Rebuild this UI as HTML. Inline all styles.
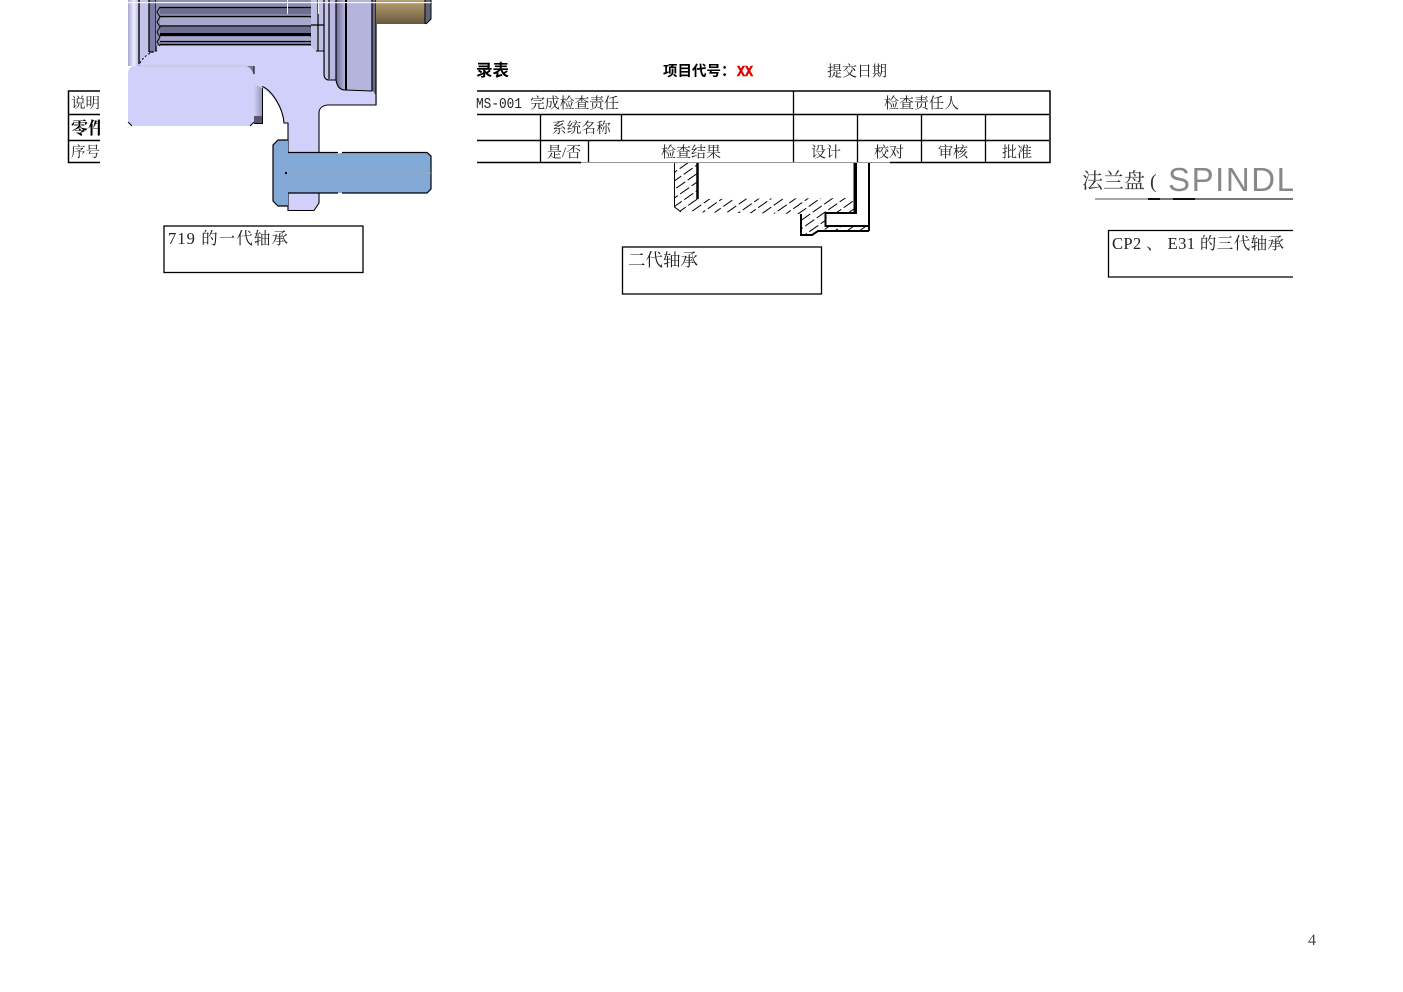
<!DOCTYPE html>
<html><head><meta charset="utf-8"><style>
html,body{margin:0;padding:0;background:#fff;width:1403px;height:992px;overflow:hidden}
svg{display:block}
text{font-family:"Liberation Serif","Noto Serif CJK SC",serif;fill:#222}
</style></head><body>
<svg width="1403" height="992" viewBox="0 0 1403 992" xmlns="http://www.w3.org/2000/svg">
<defs>
<linearGradient id="brass" x1="0" y1="0" x2="0" y2="1"><stop offset="0" stop-color="#b8a070"/><stop offset="0.5" stop-color="#947f58"/><stop offset="1" stop-color="#66583c"/></linearGradient>
<linearGradient id="leftg" x1="0" y1="0" x2="1" y2="0"><stop offset="0" stop-color="#a8a8d4"/><stop offset="0.5" stop-color="#eeeeff"/><stop offset="1" stop-color="#a8a8d8"/></linearGradient>
<linearGradient id="side" x1="0" y1="0" x2="1" y2="0"><stop offset="0" stop-color="#6c6c94"/><stop offset="1" stop-color="#b4b4dc"/></linearGradient>
<linearGradient id="small" x1="0" y1="0" x2="1" y2="0"><stop offset="0" stop-color="#d0d0f0"/><stop offset="1" stop-color="#9090b8"/></linearGradient>
<pattern id="hatch" width="14" height="14" patternUnits="userSpaceOnUse" patternTransform="rotate(-35)">
<line x1="0" y1="3" x2="14" y2="3" stroke="#000" stroke-width="1" stroke-dasharray="9 3"/>
<line x1="0" y1="10" x2="14" y2="10" stroke="#000" stroke-width="1" stroke-dasharray="9 3"/>
</pattern>
</defs>

<!-- left table fragment -->
<g fill="none" stroke="#000" stroke-width="1.5">
<path d="M100 91H68.500V162.500H100M68 114.500H100M68 140.500H100"/>
</g>
<text x="71" y="108" font-size="14.500">说明</text>
<text x="71" y="134" font-size="17" font-weight="700" style="fill:#000">零件</text>
<text x="71" y="157" font-size="14.500">序号</text>
<rect x="100" y="85" width="28" height="85" fill="#fff"/>

<!-- machined part -->
<rect x="128" y="0" width="12" height="66" fill="url(#leftg)"/>
<rect x="140" y="0" width="20" height="66" fill="#c4c4ea"/>
<rect x="149" y="0" width="7" height="52" fill="#7c7ca6"/>
<path d="M139 0V64M149 0V52M156 0V52M149 52H156" stroke="#000" stroke-width="1.300" fill="none"/>
<!-- ribs -->
<rect x="156" y="0" width="156" height="46" fill="#8d8db4"/>
<g fill="#6e6e90"><rect x="160" y="8" width="152" height="6"/><rect x="160" y="27" width="152" height="6"/></g>
<g fill="#a8a8cc"><rect x="160" y="18" width="152" height="7"/><rect x="160" y="37" width="152" height="4"/></g>
<g stroke="#000" fill="none">
<path d="M160 7.500H311M160 16.500H311M160 26H311M160 41.500H311M160 44.500H311" stroke-width="1.200"/>
<path d="M160 34.500H311" stroke-width="3"/>
<path d="M160 7L157 12L160 17L157 22L160 27L157 32L160 37L157 42L160 46M311 7L315 12L311 17L315 22L311 27L315 32L311 37L315 42L311 46" stroke-width="1"/>
</g>
<!-- right strips -->
<rect x="311" y="0" width="13" height="51" fill="#c0c0e4"/>
<rect x="324" y="0" width="13" height="80" fill="#c4c4ec"/>
<rect x="329" y="0" width="8" height="80" fill="#b8b8e0"/>
<path d="M336 0H345V92H336Z" fill="url(#side)"/>
<rect x="345" y="0" width="28" height="92" fill="#b4b4dc"/>
<rect x="372" y="0" width="4" height="95" fill="#6c6c88"/>
<path d="M324 0V79M318 0V51M329 0V79M336 0V80M372 0V91M376 0V105M311 25H324" stroke="#000" stroke-width="1.200" fill="none"/>
<path d="M346 0V90" stroke="#000" stroke-width="2" fill="none"/>
<!-- brass -->
<rect x="376" y="0" width="49" height="24" fill="url(#brass)"/>
<path d="M425 0H431V19L426 24H425Z" fill="#5e6678"/>
<path d="M425 0V24M431 0V19L426 24" stroke="#000" fill="none"/>
<rect x="128" y="2" width="303" height="1.200" fill="#f4f4f4"/>
<rect x="287" y="0" width="1" height="14" fill="#f4f4f4"/>
<rect x="318" y="0" width="1" height="14" fill="#f4f4f4"/>

<!-- small piece next to pocket -->
<rect x="254" y="85" width="9" height="39" fill="url(#small)"/>
<rect x="254" y="116" width="9" height="7" fill="#55556e"/>
<path d="M262.500 86V123.500H254" fill="none" stroke="#000"/>
<!-- body -->
<path d="M140 66C140 58 150 52 157 51L160 46H311L316 51H324V74C324 78 326 80 329 80H336C337 86 340 90 345 90L372 91C374 92 376 94 376 100V105H327C322 106 319 108 319 113V203L314 210H288V123H284C283 108 270 88 254 85V66Z" fill="#d0d0fa"/>
<path d="M316 51H324V74C324 78 326 80 329 80H336C337 86 340 90 345 90L372 91M376 96V105H327C322 106 319 108 319 113V203L314 210.500H288V123H284C283 108 272 90 262 86.500" fill="none" stroke="#000" stroke-width="1.100"/>
<path d="M140 63C143 57 150 52 157 51" fill="none" stroke="#000" stroke-width="1" stroke-dasharray="2 2"/>
<rect x="128" y="66" width="126" height="60" rx="7" fill="#d0d0fa"/>
<path d="M246 66H254V75C252 70 250 67 246 66Z" fill="#7a7a98"/>
<path d="M254 66V74M128 122L132 126M250 126L254 122" fill="none" stroke="#000"/>
<path d="M140 66H246" stroke="#c8c8c8"/>
<!-- bolt -->
<path d="M288 140H278L273 145V201L278 206H288V193H315L320 192.500L345 193H427L431 189V156L427 152.500H345L338 153.500L333 152.500H288Z" fill="#82a9d6"/>
<path d="M288 140H278L273 145V201L278 206H288M288 193H338M342 193H427L431 189V156L427 152.500H342M338 152.500H288" fill="none" stroke="#000" stroke-width="1.200"/>
<path d="M288 173H431" stroke="#9aa6b8" stroke-width="1"/>
<rect x="285" y="172" width="2" height="2" fill="#000"/>

<!-- center title -->
<text x="476" y="76" font-size="16.500" font-weight="700" style="fill:#000;font-family:'Noto Sans CJK SC','Liberation Sans',sans-serif">录表</text>
<text x="663" y="76" font-size="14.500" font-weight="700" style="fill:#000;font-family:'Noto Sans CJK SC','Liberation Sans',sans-serif">项目代号：</text>
<text x="737" y="76" font-size="15" font-weight="700" textLength="16" lengthAdjust="spacingAndGlyphs" style="fill:#e00000;stroke:#e00000;stroke-width:.5;font-family:'Liberation Mono',monospace">XX</text>
<text x="827" y="76" font-size="15">提交日期</text>

<!-- center table -->
<g stroke="#000" fill="none">
<path d="M477 91H1050V162.500H890M477 114.500H1049M477 140.500H1049M477 162.500H581" stroke-width="1.500"/>
<path d="M793.500 91V162M857.500 114V162M921.500 114V162M985.500 114V162M540.500 114V162M621.500 114V140M588.500 140V162" stroke-width="1.300"/>
</g>
<path d="M581 162.500H890" stroke="#999" stroke-width="1"/>
<text x="476" y="108" font-size="15" textLength="46" lengthAdjust="spacingAndGlyphs" style="font-family:'Liberation Mono',monospace">MS-001</text>
<text x="530" y="108" font-size="15" textLength="89">完成检查责任</text>
<text x="884" y="108" font-size="15">检查责任人</text>
<text x="552" y="133" font-size="14.500" letter-spacing="0.200">系统名称</text>
<text x="547" y="157" font-size="15">是/否</text>
<text x="661" y="157" font-size="15">检查结果</text>
<text x="811" y="157" font-size="15">设计</text>
<text x="874" y="157" font-size="15">校对</text>
<text x="938" y="157" font-size="15">审核</text>
<text x="1002" y="157" font-size="15">批准</text>

<!-- hatched section -->
<path d="M674 163V207L681 212L800 214V235H812L818 231H869V226H825V213H855V198L698 199V163Z" fill="url(#hatch)"/>
<path d="M674.500 163V207L681 212" fill="none" stroke="#000"/>
<path d="M697.500 163V199" stroke="#000" stroke-width="2.500" fill="none"/>
<path d="M856 163V213H825.500V226H869" stroke="#000" stroke-width="2" fill="none"/>
<path d="M855 163V213" stroke="#000" stroke-width="3" fill="none"/>
<path d="M869 163V231" stroke="#000" stroke-width="2" fill="none"/>
<path d="M801 214V235H812L818 231H869" stroke="#000" stroke-width="2" fill="none"/>

<!-- spindle text -->
<text x="1082" y="188" font-size="21" style="fill:#333">法兰盘</text>
<text x="1150" y="188" font-size="20" style="fill:#333">(</text>
<text x="1168" y="191" font-size="33" textLength="127" lengthAdjust="spacing" style="font-family:'Liberation Sans',sans-serif;font-weight:400;fill:#888">SPINDL</text>
<path d="M1095 199H1148" stroke="#aaa" stroke-width="2"/>
<path d="M1148 199H1160M1173 199H1195" stroke="#111" stroke-width="2"/>
<path d="M1160 199H1173M1195 199H1293" stroke="#777" stroke-width="2"/>
<rect x="1293" y="160" width="20" height="50" fill="#fff"/>

<!-- caption boxes -->
<rect x="164" y="226" width="199" height="46.500" fill="#fff" stroke="#000" stroke-width="1.300"/>
<text x="168" y="244" font-size="16.500" textLength="120">719 的一代轴承</text>
<rect x="622.500" y="247" width="199" height="47" fill="#fff" stroke="#000" stroke-width="1.300"/>
<text x="628" y="266" font-size="17.500">二代轴承</text>
<path d="M1293 230.500H1108.500V277H1293" fill="#fff" stroke="#000" stroke-width="1.300"/>
<text x="1112" y="249" font-size="16.500" textLength="172">CP2 、 E31 的三代轴承</text>

<!-- page number -->
<text x="1308" y="945" font-size="16" style="fill:#444">4</text>
</svg>
</body></html>
